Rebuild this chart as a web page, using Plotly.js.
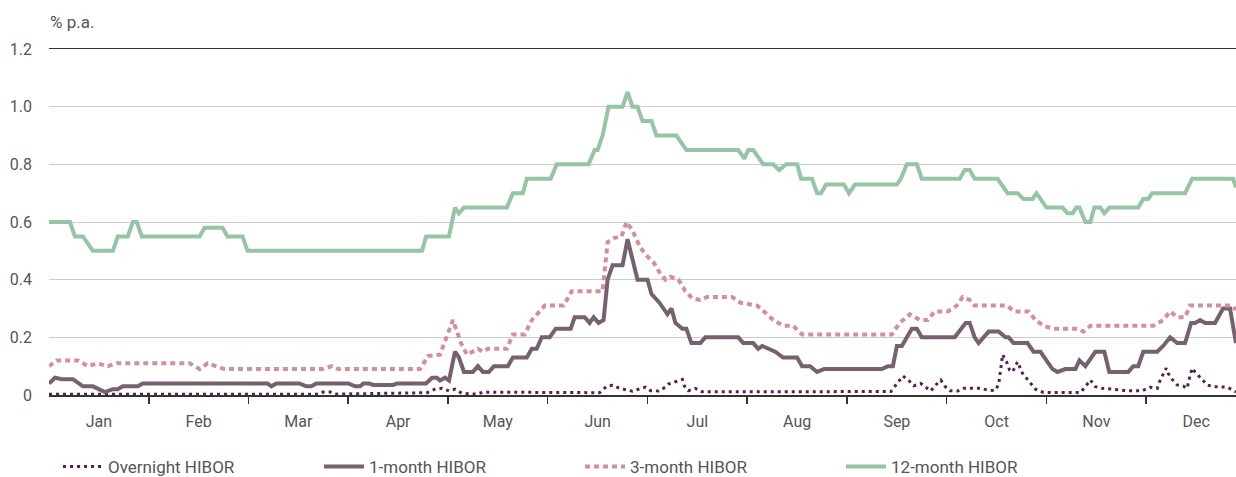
<!DOCTYPE html>
<html>
<head>
<meta charset="utf-8">
<script src="https://cdn.plot.ly/plotly-3.0.1.min.js"></script>
<style>html,body{margin:0;padding:0;background:#fff;}#chart{width:1236px;height:477px;}</style>
</head>
<body>
<div id="chart"></div>
<script>
// x positions are in months from 1 January (0 = start of Jan, 12 = end of Dec)
const monthLabels = ["Jan","Feb","Mar","Apr","May","Jun","Jul","Aug","Sep","Oct","Nov","Dec"];
const yTickVals = [0, 0.2, 0.4, 0.6, 0.8, 1.0, 1.2];
const yTickText = ["0", "0.2", "0.4", "0.6", "0.8", "1.0", "1.2"];

const overnightX = [0.00,2.70,2.75,2.82,2.87,3.49,3.79,3.87,3.94,4.01,4.07,4.14,4.29,4.35,5.52,5.59,5.65,5.72,5.79,5.85,5.91,5.98,6.03,6.11,6.18,6.21,6.28,6.35,6.37,6.41,6.48,6.55,8.44,8.49,8.56,8.62,8.67,8.74,8.79,8.84,8.89,8.94,8.98,9.03,9.11,9.17,9.34,9.41,9.48,9.52,9.56,9.60,9.63,9.66,9.71,9.76,9.81,9.89,9.97,10.34,10.39,10.44,10.49,10.56,10.67,10.81,10.96,11.04,11.11,11.14,11.20,11.22,11.26,11.31,11.37,11.41,11.43,11.46,11.49,11.56,11.61,11.67,11.81,11.87,11.90];
const overnightY = [0.003,0.003,0.01,0.01,0.003,0.005,0.008,0.02,0.023,0.014,0.02,0.006,0.003,0.01,0.008,0.03,0.034,0.023,0.017,0.013,0.02,0.027,0.015,0.014,0.027,0.038,0.046,0.054,0.031,0.015,0.023,0.011,0.012,0.035,0.066,0.05,0.032,0.04,0.027,0.014,0.035,0.052,0.031,0.015,0.014,0.023,0.023,0.017,0.015,0.035,0.14,0.115,0.087,0.08,0.115,0.075,0.054,0.02,0.009,0.009,0.029,0.052,0.029,0.023,0.02,0.015,0.015,0.027,0.023,0.052,0.093,0.075,0.054,0.035,0.031,0.023,0.054,0.093,0.08,0.054,0.035,0.029,0.027,0.017,0.01];

const oneMonthX = [0.00,0.06,0.13,0.24,0.34,0.44,0.56,0.64,0.69,0.74,0.89,0.94,2.19,2.23,2.28,2.51,2.58,2.63,2.68,3.00,3.07,3.12,3.15,3.21,3.25,3.45,3.49,3.78,3.84,3.89,3.92,3.97,4.01,4.07,4.11,4.16,4.25,4.30,4.35,4.41,4.46,4.60,4.65,4.79,4.84,4.89,4.94,5.02,5.08,5.23,5.27,5.37,5.42,5.46,5.51,5.56,5.60,5.65,5.75,5.80,5.90,6.00,6.04,6.12,6.20,6.24,6.28,6.35,6.39,6.44,6.53,6.58,6.91,6.96,7.06,7.11,7.15,7.21,7.28,7.36,7.50,7.55,7.63,7.70,7.77,8.35,8.41,8.46,8.50,8.55,8.65,8.70,8.75,9.08,9.19,9.23,9.28,9.32,9.42,9.52,9.59,9.62,9.67,9.81,9.87,9.94,10.06,10.11,10.19,10.29,10.33,10.39,10.49,10.58,10.63,10.82,10.87,10.92,10.97,11.11,11.17,11.24,11.31,11.39,11.45,11.49,11.54,11.59,11.69,11.77,11.84,11.90];
const oneMonthY = [0.04,0.06,0.055,0.055,0.03,0.03,0.01,0.02,0.02,0.03,0.03,0.04,0.04,0.03,0.04,0.04,0.03,0.03,0.04,0.04,0.03,0.03,0.04,0.04,0.035,0.035,0.04,0.04,0.06,0.06,0.05,0.06,0.05,0.15,0.13,0.08,0.08,0.10,0.08,0.08,0.10,0.10,0.13,0.13,0.16,0.16,0.20,0.20,0.23,0.23,0.27,0.27,0.25,0.27,0.25,0.26,0.40,0.45,0.45,0.54,0.40,0.40,0.35,0.32,0.28,0.30,0.25,0.23,0.23,0.18,0.18,0.20,0.20,0.18,0.18,0.16,0.17,0.16,0.15,0.13,0.13,0.10,0.10,0.08,0.09,0.09,0.10,0.10,0.17,0.17,0.23,0.23,0.20,0.20,0.25,0.25,0.20,0.18,0.22,0.22,0.20,0.20,0.18,0.18,0.15,0.15,0.09,0.08,0.09,0.09,0.12,0.10,0.15,0.15,0.08,0.08,0.10,0.10,0.15,0.15,0.17,0.20,0.18,0.18,0.25,0.25,0.26,0.25,0.25,0.30,0.30,0.18];

const threeMonthX = [0.00,0.08,0.29,0.39,0.48,0.59,0.68,1.41,1.51,1.59,1.76,2.74,2.84,2.90,3.72,3.80,3.92,4.05,4.13,4.19,4.30,4.35,4.40,4.59,4.65,4.77,4.84,4.97,5.16,5.24,5.55,5.60,5.67,5.74,5.79,5.85,5.93,6.00,6.06,6.13,6.18,6.23,6.31,6.38,6.45,6.53,6.60,6.85,6.93,7.10,7.20,7.26,7.36,7.46,7.55,8.45,8.53,8.63,8.73,8.81,8.88,9.01,9.10,9.16,9.23,9.28,9.61,9.67,9.82,9.89,9.97,10.07,10.31,10.37,10.44,11.07,11.17,11.24,11.31,11.39,11.44,11.86,11.90];
const threeMonthY = [0.10,0.12,0.12,0.10,0.11,0.10,0.11,0.11,0.09,0.11,0.09,0.09,0.10,0.09,0.09,0.135,0.14,0.26,0.18,0.14,0.16,0.15,0.16,0.16,0.21,0.21,0.26,0.31,0.31,0.36,0.36,0.53,0.545,0.55,0.60,0.57,0.51,0.48,0.46,0.42,0.40,0.41,0.40,0.36,0.335,0.33,0.34,0.34,0.32,0.31,0.28,0.26,0.24,0.24,0.21,0.21,0.25,0.28,0.26,0.26,0.29,0.29,0.31,0.34,0.33,0.31,0.31,0.29,0.29,0.26,0.24,0.23,0.23,0.22,0.24,0.24,0.26,0.29,0.27,0.27,0.31,0.31,0.295];

const twelveMonthX = [0.00,0.21,0.26,0.34,0.44,0.64,0.69,0.79,0.84,0.88,0.93,1.51,1.56,1.74,1.79,1.94,1.99,3.74,3.78,4.01,4.07,4.11,4.16,4.59,4.65,4.75,4.79,5.03,5.09,5.41,5.47,5.50,5.55,5.61,5.75,5.80,5.85,5.90,5.95,6.04,6.09,6.29,6.39,6.91,6.97,7.01,7.06,7.16,7.26,7.32,7.39,7.50,7.54,7.65,7.70,7.74,7.79,7.97,8.02,8.08,8.50,8.54,8.60,8.70,8.75,9.13,9.18,9.23,9.28,9.51,9.61,9.71,9.77,9.86,9.90,10.00,10.16,10.21,10.26,10.30,10.33,10.39,10.44,10.48,10.54,10.58,10.63,10.92,10.97,11.02,11.06,11.39,11.46,11.87,11.90];
const twelveMonthY = [0.60,0.60,0.55,0.55,0.50,0.50,0.55,0.55,0.60,0.60,0.55,0.55,0.58,0.58,0.55,0.55,0.50,0.50,0.55,0.55,0.65,0.63,0.65,0.65,0.70,0.70,0.75,0.75,0.80,0.80,0.85,0.85,0.90,1.00,1.00,1.05,1.00,1.00,0.95,0.95,0.90,0.90,0.85,0.85,0.82,0.85,0.85,0.80,0.80,0.78,0.80,0.80,0.75,0.75,0.70,0.70,0.73,0.73,0.70,0.73,0.73,0.75,0.80,0.80,0.75,0.75,0.78,0.78,0.75,0.75,0.70,0.70,0.68,0.68,0.70,0.65,0.65,0.63,0.63,0.65,0.65,0.60,0.60,0.65,0.65,0.63,0.65,0.65,0.68,0.68,0.70,0.70,0.75,0.75,0.72];

const FONT = "Roboto, 'Open Sans', sans-serif";
const TXT = "#555555";

const traces = [
  {name: "Overnight HIBOR", x: overnightX, y: overnightY, type: "scatter", mode: "lines",
   line: {color: "#5b1e52", width: 3, dash: "3px,4px"}},
  {name: "1-month HIBOR", x: oneMonthX, y: oneMonthY, type: "scatter", mode: "lines",
   line: {color: "#77606f", width: 4}},
  {name: "3-month HIBOR", x: threeMonthX, y: threeMonthY, type: "scatter", mode: "lines",
   line: {color: "#d3909a", width: 4, dash: "5px,4px"}},
  {name: "12-month HIBOR", x: twelveMonthX, y: twelveMonthY, type: "scatter", mode: "lines",
   line: {color: "#95c5a5", width: 4}}
];

const layout = {
  width: 1236, height: 477,
  margin: {l: 49, r: 0, t: 49, b: 82, pad: 0, autoexpand: false},
  paper_bgcolor: "#ffffff", plot_bgcolor: "#ffffff",
  font: {family: FONT, size: 16, color: TXT},
  showlegend: true,
  legend: {orientation: "h", x: 0.0076, xanchor: "left", y: -0.208, yanchor: "middle",
           font: {family: FONT, size: 17, color: TXT},
           entrywidth: 206, entrywidthmode: "pixels", itemwidth: 40,
           bgcolor: "rgba(0,0,0,0)", borderwidth: 0},
  xaxis: {
    range: [0, 11.9], fixedrange: true,
    tickmode: "array", tickvals: [0.5,1.5,2.5,3.5,4.5,5.5,6.5,7.5,8.5,9.5,10.5,11.5], ticktext: monthLabels,
    ticks: "", showgrid: false, zeroline: false,
    showline: true, linecolor: "#333333", linewidth: 1.5, mirror: true,
    ticklabelstandoff: 11,
    tickfont: {family: FONT, size: 16, color: TXT},
    minor: {tickmode: "array", tickvals: [1,2,3,4,5,6,7,8,9,10,11], ticks: "outside", ticklen: 7, tickwidth: 1.5, tickcolor: "#333333", showgrid: false}
  },
  yaxis: {
    range: [0, 1.2], fixedrange: true,
    tickmode: "array", tickvals: yTickVals, ticktext: yTickText,
    ticks: "", showline: false, zeroline: false,
    showgrid: true, gridcolor: "#cccccc", gridwidth: 1,
    ticklabelstandoff: 16,
    tickfont: {family: FONT, size: 16, color: TXT}
  },
  annotations: [
    {text: "% p.a.", xref: "paper", yref: "paper", x: -0.001, y: 1.078, xanchor: "left", yanchor: "middle",
     showarrow: false, font: {family: FONT, size: 17, color: TXT}}
  ]
};

Plotly.newPlot("chart", traces, layout, {displayModeBar: false, staticPlot: true});
</script>
</body>
</html>
